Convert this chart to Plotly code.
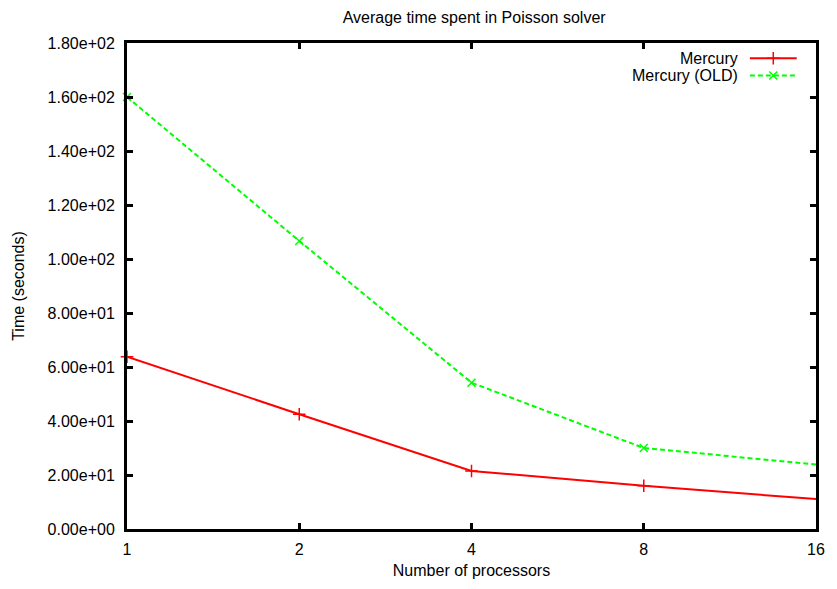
import plotly.graph_objects as go

# ---- data ----
processors = [1, 2, 4, 8, 16]
mercury = [63.8, 42.5, 21.5, 16.0, 11.1]
mercury_old = [160.0, 106.7, 54.2, 30.0, 23.9]
x_tick_labels = ["1", "2", "4", "8", "16"]
y_tick_values = [0, 20, 40, 60, 80, 100, 120, 140, 160, 180]
y_tick_labels = ["0.00e+00", "2.00e+01", "4.00e+01", "6.00e+01", "8.00e+01",
                 "1.00e+02", "1.20e+02", "1.40e+02", "1.60e+02", "1.80e+02"]
series_names = ["Mercury", "Mercury (OLD)"]

FONT = "Liberation Sans, Arial, Helvetica, sans-serif"
RED = "#ff0000"
GREEN = "#00ff00"

line_styles = [dict(color=RED, width=2), dict(color=GREEN, width=2, dash="5px,3px")]
marker_styles = [
    dict(symbol="cross-thin", size=9, color=RED, line=dict(color=RED, width=1.5)),
    dict(symbol="x-thin", size=8, color=GREEN, line=dict(color=GREEN, width=1.5)),
]

fig = go.Figure()
for name, vals, ls, ms in zip(series_names, [mercury, mercury_old], line_styles, marker_styles):
    fig.add_trace(go.Scatter(
        x=processors, y=vals, mode="lines+markers", name=name,
        line=ls, marker=ms, cliponaxis=False, showlegend=False))

# ---- gnuplot-style key (text left, sample right), drawn on an overlay 0..1 axis ----
key_y = [1 - 15.5 / 493.5, 1 - 33.0 / 493.5]
key_x0, key_x1 = 0.904, 0.972
for name, yy, ls, ms in zip(series_names, key_y, line_styles, marker_styles):
    key_marker = dict(ms)
    key_marker["opacity"] = [0, 1, 0]
    fig.add_trace(go.Scatter(
        x=[key_x0, (key_x0 + key_x1) / 2, key_x1], y=[yy, yy, yy],
        mode="lines+markers", xaxis="x2", yaxis="y2", showlegend=False,
        hoverinfo="skip", cliponaxis=False, line=ls, marker=key_marker))
    fig.add_annotation(x=0.89, y=yy, xref="paper", yref="paper", text=name,
                       showarrow=False, xanchor="right", yanchor="middle",
                       font=dict(family=FONT, size=16, color="black"))

axis_common = dict(showline=True, linecolor="black", linewidth=3, mirror="ticks",
                   ticks="inside", ticklen=6, tickwidth=2.5, tickcolor="black",
                   showgrid=False, zeroline=False,
                   tickfont=dict(family=FONT, size=16, color="black"))

fig.update_layout(
    width=837, height=589,
    margin=dict(l=127, r=15, t=43, b=52),
    paper_bgcolor="white", plot_bgcolor="white",
    font=dict(family=FONT, size=16, color="black"),
    title=dict(text="Average time spent in Poisson solver", x=0.5665, xanchor="center",
               y=1 - 17 / 589, yanchor="middle",
               font=dict(family=FONT, size=16, color="black")),
    xaxis=dict(type="log", range=[0, 1.2041], tickvals=processors, ticktext=x_tick_labels,
               title=dict(text="Number of processors", standoff=8,
                          font=dict(family=FONT, size=16)),
               ticklabelstandoff=4, **axis_common),
    yaxis=dict(range=[0, 180], tickvals=y_tick_values, ticktext=y_tick_labels,
               title=dict(text="Time (seconds)", standoff=20,
                          font=dict(family=FONT, size=16)),
               ticklabelstandoff=6, **axis_common),
    xaxis2=dict(overlaying="x", range=[0, 1], visible=False, fixedrange=True),
    yaxis2=dict(overlaying="y", range=[0, 1], visible=False, fixedrange=True),
)

fig.write_html("out.html")
